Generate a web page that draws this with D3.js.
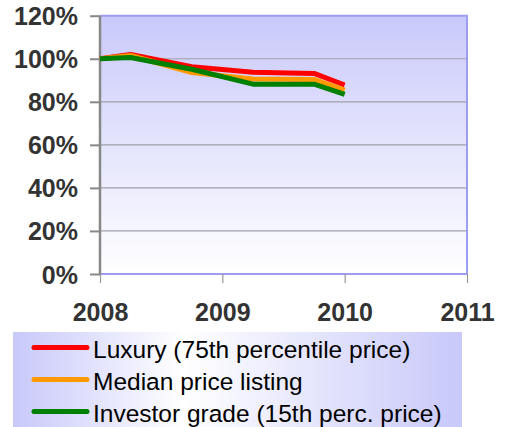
<!DOCTYPE html>
<html>
<head>
<meta charset="utf-8">
<script src="https://cdn.jsdelivr.net/npm/d3@7"></script>
<style>
  body { margin: 0; background: #fff; }
  svg { display: block; font-family: "Liberation Sans", Arial, sans-serif; }
</style>
</head>
<body>
<div id="chart"></div>
<script>
// values (percent of the 2008 price)
const dates = [2008, 2008.25, 2008.75, 2009.25, 2009.75, 2010];
const luxury = [100, 102, 96.3, 93.7, 93.2, 87.8];
const median = [100, 101.5, 93.6, 90.6, 90.4, 85.4];
const investor = [100, 100.6, 95.1, 88.2, 88.2, 83.4];
const yearTicks = [2008, 2009, 2010, 2011];
const pctTicks = [0, 20, 40, 60, 80, 100, 120];
const seriesNames = ["Luxury (75th percentile price)", "Median price listing", "Investor grade (15th perc. price)"];
const seriesColors = ["#ff0000", "#ff9900", "#008000"];

const width = 509, height = 427;
const margin = {top: 15.7, right: 42, bottom: 153, left: 100};

const svg = d3.select("#chart")
    .append("svg")
    .attr("width", width)
    .attr("height", height);

const defs = svg.append("defs");
const plotGrad = defs.append("linearGradient")
    .attr("id", "plotGrad")
    .attr("x1", 0).attr("y1", 0).attr("x2", 0).attr("y2", 1);
plotGrad.append("stop").attr("offset", 0).attr("stop-color", "#c9c9fb");
plotGrad.append("stop").attr("offset", 0.35).attr("stop-color", "#dcdcfc");
plotGrad.append("stop").attr("offset", 1).attr("stop-color", "#ffffff");

const legGrad = defs.append("linearGradient")
    .attr("id", "legGrad")
    .attr("x1", 0).attr("y1", 0).attr("x2", 1).attr("y2", 0);
legGrad.append("stop").attr("offset", 0).attr("stop-color", "#c8c8fa");
legGrad.append("stop").attr("offset", 0.38).attr("stop-color", "#ffffff");
legGrad.append("stop").attr("offset", 1).attr("stop-color", "#c8c8fa");

const x = d3.scaleLinear()
    .domain([2008, 2011])
    .range([margin.left, width - margin.right]);
const y = d3.scaleLinear()
    .domain([0, 120])
    .range([height - margin.bottom, margin.top]);

// plot area
svg.append("rect")
    .attr("x", x(2008)).attr("y", y(120))
    .attr("width", x(2011) - x(2008))
    .attr("height", y(0) - y(120))
    .style("fill", "url(#plotGrad)");

// grid
svg.append("g")
    .selectAll("line")
    .data(pctTicks.filter(d => d > 0 && d < 120))
    .enter().append("line")
    .attr("x1", x(2008)).attr("x2", x(2011))
    .attr("y1", d => y(d)).attr("y2", d => y(d))
    .style("stroke", "#a0a0a8")
    .style("stroke-width", 1.2);

// blue frame: top, right, bottom
svg.append("path")
    .attr("d", `M${x(2008)},${y(120)}H${x(2011)}V${y(0)}H${x(2008)}`)
    .style("fill", "none")
    .style("stroke", "#9c9cf0")
    .style("stroke-width", 2);

// x axis ticks
const xAxis = svg.append("g")
    .attr("transform", `translate(0,${y(0)})`)
    .call(d3.axisBottom(x).tickValues(yearTicks).tickFormat(d3.format("d")).tickSize(9).tickPadding(20));
xAxis.select(".domain").remove();
xAxis.selectAll("line").style("stroke", "#999").style("stroke-width", 1.2);
xAxis.selectAll("text")
    .style("font-size", "25px")
    .style("font-weight", "bold")
    .style("fill", "#333");

// y axis
const yAxis = svg.append("g")
    .attr("transform", `translate(${x(2008)},0)`)
    .call(d3.axisLeft(y).tickValues(pctTicks).tickFormat(d => d + "%").tickSize(10).tickPadding(12));
yAxis.select(".domain")
    .attr("d", `M0,${y(120)}V${y(0)}`)
    .style("stroke", "#888")
    .style("stroke-width", 2.5);
yAxis.selectAll("line").style("stroke", "#888").style("stroke-width", 2);
yAxis.selectAll("text")
    .style("font-size", "25px")
    .style("font-weight", "bold")
    .style("fill", "#333")
    .attr("dy", "0.36em");

// series
const line = d3.line()
    .x((d, i) => x(dates[i]))
    .y(d => y(d));

const series = [luxury, median, investor];
svg.append("g")
    .selectAll("path")
    .data(series)
    .enter().append("path")
    .attr("d", line)
    .style("fill", "none")
    .style("stroke", (d, i) => seriesColors[i])
    .style("stroke-width", 5)
    .style("stroke-linejoin", "round");

// legend
const leg = svg.append("g");
leg.append("rect")
    .attr("x", 13).attr("y", 332)
    .attr("width", 449).attr("height", 100)
    .style("fill", "url(#legGrad)");

const item = leg.selectAll(".item")
    .data(seriesNames)
    .enter().append("g")
    .attr("class", "item")
    .attr("transform", (d, i) => `translate(0,${347.5 + i * 32})`);

item.append("line")
    .attr("x1", 34).attr("x2", 87)
    .attr("y1", 0).attr("y2", 0)
    .style("stroke", (d, i) => seriesColors[i])
    .style("stroke-width", 5)
    .style("stroke-linecap", "round");

item.append("text")
    .attr("x", 93).attr("y", 10)
    .text(d => d)
    .style("font-size", "24.5px")
    .style("fill", "#000");
</script>
</body>
</html>
